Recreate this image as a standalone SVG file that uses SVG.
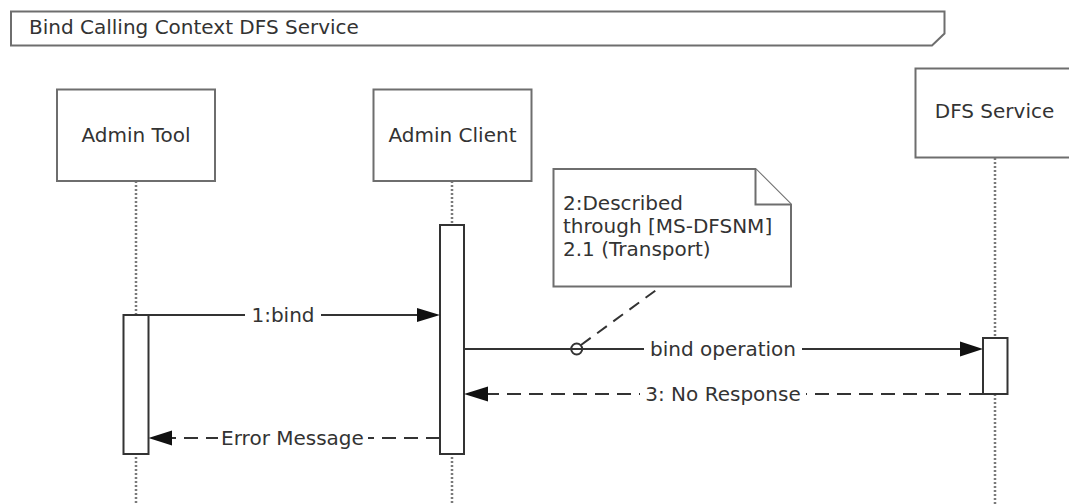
<svg xmlns="http://www.w3.org/2000/svg" width="1069" height="504" viewBox="0 0 1069 504">
<style>
text{font-family:"DejaVu Sans","Verdana",sans-serif;font-size:20px;fill:#333}
.box{fill:#fff;stroke:#6e6e6e;stroke-width:2}
.life{stroke:#7a7a7a;stroke-width:2.5;stroke-dasharray:2 2;fill:none}
.bar{fill:#fff;stroke:#333;stroke-width:2}
.msg{stroke:#333;stroke-width:2;fill:none}
.dash{stroke-dasharray:14 8}
.head{fill:#111;stroke:none}
.gap{fill:#fff;stroke:none}
</style>
<rect width="1069" height="504" fill="#fff"/>
<g id="frame">
<path class="box" d="M11,11.5 H944.5 V33.5 L932,45.5 H11 Z"/>
<text x="29" y="33.5">Bind Calling Context DFS Service</text>
</g>
<g id="lifelines">
<line class="life" x1="136" y1="181" x2="136" y2="504"/>
<line class="life" x1="452" y1="181" x2="452" y2="504"/>
<line class="life" x1="995" y1="158" x2="995" y2="504"/>
</g>
<g id="admin-tool">
<rect class="box" x="57" y="89.5" width="158" height="91.5"/>
<text x="136" y="141.5" text-anchor="middle">Admin Tool</text>
</g>
<g id="admin-client">
<rect class="box" x="373.5" y="89.5" width="158" height="91.5"/>
<text x="452.5" y="141.5" text-anchor="middle">Admin Client</text>
</g>
<g id="dfs-service">
<rect class="box" x="915.5" y="68.5" width="158" height="89"/>
<text x="994.5" y="117.5" text-anchor="middle">DFS Service</text>
</g>
<g id="activations">
<rect class="bar" x="123.5" y="315" width="25" height="139"/>
<rect class="bar" x="440" y="225" width="24" height="229"/>
<rect class="bar" x="983" y="338" width="24.5" height="56"/>
</g>
<g id="note">
<path class="box" d="M553.5,169 H755.5 L791,204.5 V286.5 H553.5 Z"/>
<path class="box" d="M755.5,169 V204.5 H791" fill="none"/>
<text x="563" y="210">2:Described</text>
<text x="563" y="233">through [MS-DFSNM]</text>
<text x="563" y="256">2.1 (Transport)</text>
</g>
<g id="connectors">
<line class="msg" x1="148.5" y1="315" x2="420" y2="315"/>
<polygon class="head" points="440,315 417,308 417,322"/>
<rect class="gap" x="245" y="303" width="76" height="24"/>
<text x="283" y="322" text-anchor="middle">1:bind</text>

<line class="msg" x1="464" y1="349" x2="963" y2="349"/>
<polygon class="head" points="983,349 960,341.5 960,356.5"/>
<rect class="gap" x="644" y="337" width="158" height="24"/>
<text x="723" y="356" text-anchor="middle">bind operation</text>

<line class="msg dash" x1="983" y1="394" x2="485" y2="394"/>
<polygon class="head" points="464,394 488,386.5 488,401.5"/>
<rect class="gap" x="640" y="382" width="166" height="24"/>
<text x="723" y="401" text-anchor="middle">3: No Response</text>

<line class="msg dash" x1="440" y1="438" x2="168" y2="438"/>
<polygon class="head" points="148.5,438 172,430.5 172,445.5"/>
<rect class="gap" x="218" y="426" width="150" height="24"/>
<text x="292.5" y="445" text-anchor="middle">Error Message</text>

<line class="msg" x1="581" y1="345" x2="661" y2="286.5" stroke-dasharray="12 8"/>
<circle cx="576.7" cy="349" r="5.5" fill="none" stroke="#333" stroke-width="2"/>
</g>
</svg>
